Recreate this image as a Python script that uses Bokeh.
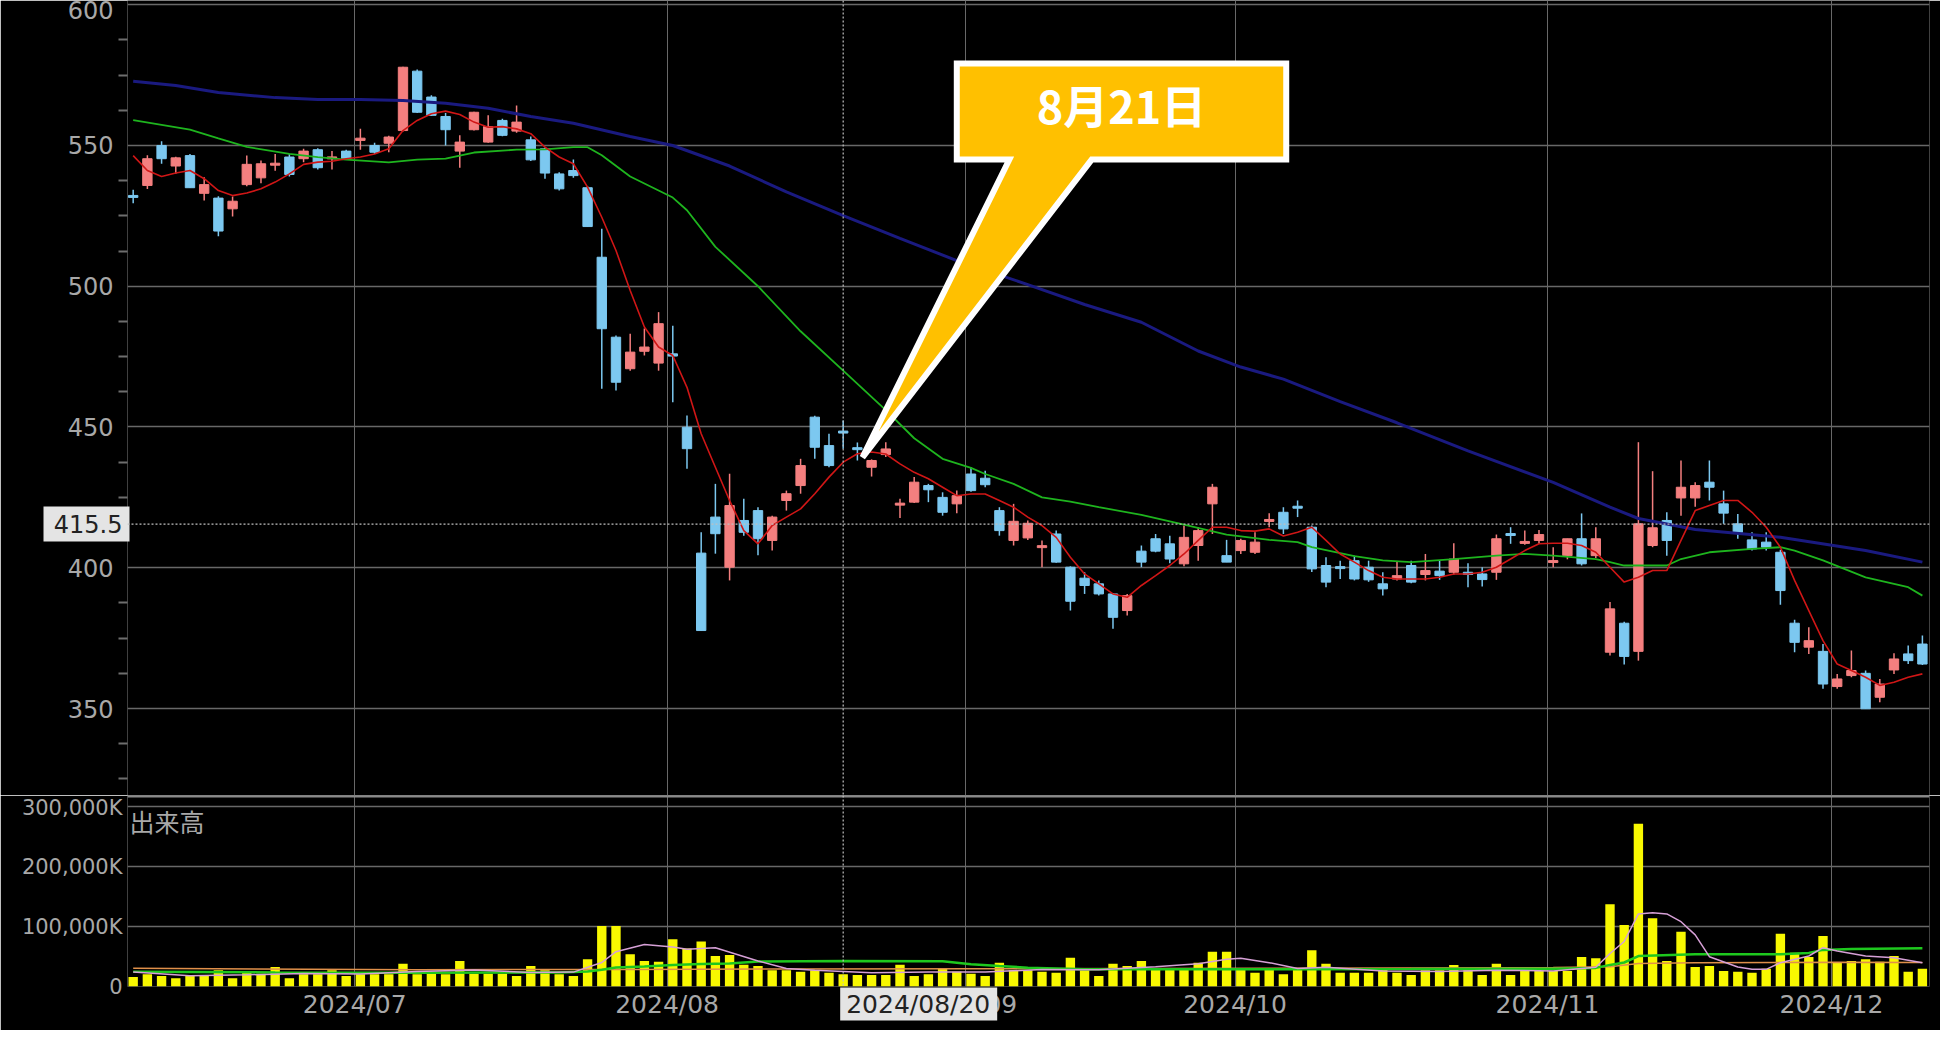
from bokeh.plotting import figure
from bokeh.layouts import column
from bokeh.models import FixedTicker, Span, Label, ColumnDataSource, Range1d
from bokeh.core.properties import value
from bokeh.embed import file_html
from bokeh.resources import INLINE

# ---------------- data ----------------
# trading-day index 0 = 2024/06/07 ... 126 = 2024/12/10
opens = [
    532, 535.8, 550, 542.7, 546.4, 533, 531.3, 527.5, 536.1, 538.5,
    543.3, 545.9, 545.3, 548.5, 545.5, 548, 551.8, 550, 550.8, 555.3,
    576.4, 567.2, 560.3, 548, 555.6, 551.2, 558.9, 555.1, 552, 548.8,
    539.9, 541.1, 535, 510.3, 481.9, 470.7, 476.9, 472.7, 476, 449.9,
    405.2, 418, 400.2, 416.8, 420.3, 409.7, 423.9, 429.2, 453.5, 443.4,
    448.3, 442.4, 435.7, 440.2, 422.5, 423.3, 429.2, 425, 422.7, 433.3,
    431.8, 420.3, 409.7, 410.6, 407.4, 412, 400.2, 396.3, 394.3, 390.7,
    384.8, 405.9, 410.3, 408.5, 401.4, 407.9, 422.7, 404.3, 406.1, 405.5,
    416.7, 419.7, 421.6, 414.4, 400.8, 400.1, 402.5, 400.2, 394.3, 396,
    400.8, 397.6, 398.8, 398.4, 398.4, 397.8, 398.4, 411.9, 408.9, 409.7,
    402.1, 404.3, 410.3, 404.3, 370, 380.3, 370.3, 407.9, 416.8, 424.8,
    424.8, 430.4, 422.7, 415.6, 409.9, 409.1, 405.5, 380.3, 371.8, 370.3,
    357.8, 361.7, 362.5, 354, 363.7, 369.4, 372.9]
highs = [
    534.3, 546.5, 551.5, 546, 547, 538.7, 532, 531.9, 546.4, 544.7,
    547, 547, 548.8, 549, 548, 548.5, 555.9, 551, 553.5, 578,
    577, 567.8, 561.5, 553.6, 562, 560.7, 559.5, 564.2, 553.2, 549.3,
    540.5, 545, 535.5, 520.4, 482.5, 483.1, 485, 490.8, 486, 454.1,
    412.6, 429.8, 433.4, 424.5, 421.5, 418.5, 427.4, 438.7, 454, 447.6,
    452.3, 444.5, 438.5, 444.6, 424.5, 432.2, 429.8, 426.8, 427.4, 435.7,
    434.5, 421.5, 422.7, 416.8, 409.7, 413.2, 400.5, 398.4, 395.5, 391,
    390.7, 407.9, 412, 411.4, 415, 414.4, 429.8, 409.9, 410.3, 412.6,
    419.4, 421.5, 423.9, 415, 403.7, 402.5, 404.3, 402.5, 398.4, 402,
    402.5, 404.9, 402.5, 408.7, 401.6, 400.2, 411.8, 414.4, 413.2, 413.4,
    407.3, 410.3, 419.3, 414.4, 387.8, 380.8, 444.6, 434.3, 419.7, 438.1,
    430.4, 438.1, 427.4, 419.1, 412.6, 412.6, 406.4, 381.5, 378.9, 372.9,
    362.3, 370.6, 363.5, 360.5, 369.6, 372.4, 375.9]
lows = [
    529.5, 534.5, 543.5, 540, 535, 530.5, 517.8, 524.8, 535.5, 536.6,
    541, 539, 544, 541.5, 541.5, 545, 548.5, 547, 547.6, 555,
    561.5, 560.5, 550, 542.1, 555.3, 551, 553.3, 554.5, 544.5, 538.2,
    534, 538.5, 521, 463.6, 463, 470, 475.4, 470, 458.8, 435.2,
    377.5, 405, 395.5, 411.4, 404.4, 406.1, 420.3, 426.3, 438.7, 435.7,
    442.3, 438.1, 432.4, 439.3, 417.7, 423, 423.3, 418.5, 419.4, 427,
    428.6, 411.4, 407.9, 409.9, 400.2, 401.8, 384.8, 390.7, 390.1, 378.3,
    383, 400.2, 405.5, 401.6, 400.5, 402.5, 412, 402, 404.9, 404.9,
    414.4, 412, 418, 398.5, 393.1, 396, 395.5, 395, 390.1, 395.5,
    394.5, 395.5, 395.7, 397.5, 393.1, 393.3, 395.7, 408.5, 408.2, 408.5,
    400.2, 403, 400.8, 403.5, 368.8, 365.6, 367, 407.3, 404.3, 418.5,
    421.7, 423.9, 415.6, 410.3, 406.1, 406.1, 386.9, 370, 369.4, 357,
    357, 361.1, 349.9, 352.2, 362.3, 365.8, 365.5]
closes = [
    531.8, 545.3, 545.3, 545.6, 535, 536.1, 519.6, 530.2, 543.3, 543.5,
    543.4, 539.7, 548, 542.1, 545.7, 545.3, 552.6, 547.6, 553, 577.8,
    561.8, 560.7, 555.6, 551.2, 561.8, 556.7, 553.6, 558.3, 544.9, 540.2,
    534.6, 539.3, 521.2, 484.9, 465.9, 476.6, 478.4, 486.7, 475.2, 442.3,
    377.7, 412.1, 422.1, 412.6, 410.3, 418, 426.3, 436.3, 442.8, 436.3,
    448.1, 442.2, 438.1, 442.2, 422.7, 430.4, 427.7, 419.7, 425.6, 427.4,
    429.5, 413.2, 416.5, 415.8, 407.6, 402, 388.1, 393.7, 390.7, 382.4,
    390.1, 402, 405.9, 403.1, 410.8, 413.2, 428.6, 402, 409.7, 409.1,
    416.9, 413.8, 421.4, 399.6, 394.9, 400, 396, 395.7, 392.5, 397.2,
    394.9, 399, 397.2, 403.1, 397.6, 395.8, 410.3, 411.7, 409.1, 411.8,
    402.3, 410.3, 401.4, 410.3, 385.4, 368.5, 415.6, 414.2, 409.7, 428.6,
    429.2, 428.6, 419.4, 412.6, 406.7, 407.3, 391.9, 373.5, 374.1, 358.7,
    360.5, 363.5, 349.9, 358.7, 367.6, 367, 365.8]
volumes_k = [
    15800, 20300, 17500, 13600, 17500, 17500, 26900, 13600, 24700, 21400,
    32500, 13600, 20300, 20300, 26900, 17500, 20300, 20300, 20300, 38100,
    20300, 21400, 20300, 42500, 21400, 21400, 21400, 17500, 34200, 26900,
    20300, 17500, 45300, 100800, 100800, 53600, 42500, 41400, 78600, 63300,
    74800, 50800, 52500, 36400, 34200, 26900, 26900, 24700, 26900, 23000,
    20300, 19200, 19200, 19200, 36400, 17500, 20300, 29700, 24700, 21400,
    17500, 39700, 26900, 26900, 24700, 23000, 48100, 26900, 17500, 38100,
    34200, 42500, 30800, 30800, 30800, 39700, 58100, 58100, 30800, 23000,
    27500, 20300, 28000, 60300, 38100, 23000, 23000, 23000, 28600, 23000,
    19200, 26900, 26900, 35800, 26900, 19200, 38100, 19200, 25800, 25800,
    25800, 25800, 49200, 47000, 136900, 102500, 271400, 113600, 42500, 91400,
    32500, 34200, 25800, 24700, 23000, 29700, 88100, 56400, 49200, 84200,
    39700, 42500, 45300, 41400, 50800, 24700, 29700]

# short moving average of price (one value per day)
ma_short = [
    546.4, 541.1, 539, 540.2, 541.1, 538.2, 534, 532.2, 533.1, 534.6,
    537, 539.9, 543.3, 544.1, 544.4, 545.3, 545.9, 547, 548.8, 555.3,
    558.9, 561.3, 562.2, 561, 558.3, 556.5, 556.7, 555.9, 554.2, 549.4,
    545.9, 543.5, 535.2, 524.5, 512.7, 498.5, 485.5, 478.4, 475.4, 464.1,
    447.6, 435.7, 423.9, 413.2, 408.5, 415, 418, 420.9, 426.3, 432.2,
    437.5, 440.5, 441.1, 440.4, 436.9, 433.9, 431.6, 428.6, 425.6, 426.2,
    426.2, 423.9, 421.5, 418, 415, 410.8, 403.7, 397.8, 394.3, 390.7,
    389.5, 393.7, 397.2, 400.8, 404.9, 409.7, 414.4, 414.4, 413.2, 413,
    413.8, 411.3, 412.6, 414.4, 409.7, 404.9, 402, 399, 396.6, 396,
    396, 396, 396.6, 397.8, 397.8, 398.4, 400.2, 403.1, 406.1, 408.5,
    408.7, 408.7, 407.9, 405.5, 400.2, 394.9, 396.6, 399, 399, 409.7,
    420.3, 422.1, 423.9, 423.9, 419.7, 414.4, 407.3, 395.5, 384.8, 374.1,
    365.8, 363.5, 361.1, 358.2, 359.3, 361.1, 362.3]
# medium moving average (read at selected days)
ma_mid_x = [0, 4, 6, 8, 11, 13, 15, 18, 20, 22, 24, 27, 29, 31, 32, 33, 35, 37, 38, 39,
            41, 44, 47, 50, 53, 55, 57, 59, 60, 62, 64, 66, 68, 71, 74, 77, 80, 82, 83,
            86, 88, 90, 93, 96, 98, 100, 103, 104, 105, 108, 109, 111, 114, 116, 117,
            119, 122, 125, 126]
ma_mid_y = [559, 555.6, 552.5, 549.5, 547, 545.9, 545, 544, 545, 545.3, 547.5, 548.5, 548.6,
            549.4, 549.4, 546.5, 539, 534, 531.5, 527, 514, 500, 484, 470, 456, 446,
            438.7, 435.5, 433.3, 429.8, 425, 423.5, 421.5, 418.8, 415.3, 411.8, 409.9,
            409.1, 407.3, 404.1, 402.6, 402, 403.1, 404.3, 404.9, 404.3, 403.1, 402,
            400.8, 400.8, 403.1, 405.5, 406.7, 407.3, 406.1, 402.6, 396.6, 393.1, 390.1]
# long moving average (read at selected days)
ma_long_x = [0, 3, 6, 10, 13, 16, 19, 22, 25, 28, 31, 35, 38, 42, 46, 50, 54, 58, 63,
             67, 71, 75, 78, 81, 85, 89, 94, 100, 104, 106, 110, 116, 122, 126]
ma_long_y = [572.8, 571.3, 568.8, 567, 566.3, 566.3, 566, 565, 563.2, 560.3, 557.9, 553.2,
             550, 542.7, 533.5, 525.1, 517, 509.1, 500.6, 493.5, 487.2, 477, 471.3, 467,
             459, 451.5, 441.5, 430.3, 421.5, 417.5, 413.6, 410.8, 406.1, 402]
# volume moving averages (thousands, read at selected days)
vma_short_x = [0, 4, 8, 12, 16, 20, 24, 28, 31, 33, 34, 36, 38, 39, 41, 44, 46, 48, 52,
               56, 60, 64, 68, 72, 75, 77, 78, 80, 82, 84, 88, 92, 96, 100, 103, 104,
               105, 106, 107, 108, 109, 110, 111, 113, 114, 115, 116, 118, 119, 120,
               122, 124, 126]
vma_short_y = [24000, 18000, 19500, 21500, 21000, 25000, 27500, 23500, 24000, 40000,
               58000, 70000, 66000, 62000, 64700, 42500, 30000, 26900, 23000, 24000,
               24000, 28500, 28000, 33000, 38000, 45300, 47000, 39700, 30000, 32000,
               26000, 25000, 27000, 26000, 32000, 55000, 75000, 121000, 123000, 121000,
               108000, 86000, 49700, 32500, 28600, 28600, 39700, 50800, 64700, 59000,
               50800, 47800, 39700]
vma_mid_x = [0, 10, 20, 30, 32, 33, 34, 36, 38, 40, 42, 44, 50, 57, 59, 61, 63, 67, 75,
             82, 90, 100, 103, 104, 105, 106, 110, 116, 118, 119, 121, 126]
vma_mid_y = [24700, 23500, 23000, 23500, 25000, 28000, 31500, 33500, 36000, 37500, 38500,
             41500, 42500, 42000, 37000, 34000, 31400, 28600, 28600, 28600, 29000,
             29700, 31000, 36000, 40000, 50800, 53600, 53600, 56000, 61000, 62500, 63600]
vma_long_x = [0, 20, 35, 45, 60, 80, 100, 104, 106, 110, 120, 126]
vma_long_y = [30300, 28000, 28500, 29000, 29500, 30500, 31500, 33000, 38500, 39500, 40500,
              40000]

month_start_idx = [16, 38, 59, 78, 100, 120]
month_labels = ["2024/07", "2024/08", "2024/09", "2024/10", "2024/11", "2024/12"]
price_ticks = [350, 400, 450, 500, 550, 600]
vol_ticks = [0, 100000, 200000, 300000]
vol_tick_labels = ["0", "100,000K", "200,000K", "300,000K"]
cursor_idx = 50
cursor_date = "2024/08/20"
cursor_price = 415.5
callout_idx = 51
callout_text = "8月21日"
volume_title = "出来高"

# ---------------- styling constants ----------------
BG = "#000000"
UP = "#f47f7f"
DOWN = "#7cc8f0"
GRID = "#686868"
LABEL = "#a8a8a8"
FONT = "DejaVu Sans"
X_START, X_END = -0.4, 126.5
GRID_SHIFT = -0.4
PX_PER_DAY = 14.2          # screen px per trading day
PX_PER_PRICE = 2.815       # screen px per price unit
PX_PER_VOL = 60 / 100000   # screen px per thousand shares

n = len(closes)
xs = list(range(n))
colors = [UP if c >= o else DOWN for o, c in zip(opens, closes)]
tops, bots = [], []
for o, c in zip(opens, closes):
    t, b = max(o, c), min(o, c)
    if t - b < 0.7:
        m = (t + b) / 2
        t, b = m + 0.35, m - 0.35
    tops.append(t)
    bots.append(b)

src = ColumnDataSource(dict(x=xs, high=highs, low=lows, top=tops, bottom=bots,
                            color=colors, vol=volumes_k))
month_ticks = [m + GRID_SHIFT for m in month_start_idx]

W = 1940
H1 = 795
H2 = 235
LEFT = 127
RIGHT = W - 1929

# ---------------- price panel ----------------
p1 = figure(width=W, height=H1, x_range=Range1d(X_START, X_END),
            y_range=Range1d(319.1, 601.5), x_axis_location=None,
            output_backend="svg", toolbar_location=None,
            min_border_left=LEFT, min_border_right=RIGHT, min_border_top=0, min_border_bottom=0,
            background_fill_color=BG, border_fill_color=BG, outline_line_color=None)
p1.xgrid.ticker = FixedTicker(ticks=month_ticks)
p1.xgrid.grid_line_color = GRID
p1.xgrid.grid_line_width = 1
minor = [v for v in [325 + 12.5 * k for k in range(23)] if v not in price_ticks]
p1.yaxis.ticker = FixedTicker(ticks=price_ticks, minor_ticks=minor)
p1.ygrid.grid_line_color = GRID
p1.ygrid.grid_line_width = 1.5
ax = p1.yaxis[0]
ax.axis_line_color = None
ax.major_tick_line_color = None
ax.major_tick_out = 0
ax.minor_tick_in = 0
ax.minor_tick_out = 9
ax.minor_tick_line_color = "#6e6e6e"
ax.minor_tick_line_width = 2
ax.major_label_standoff = 5
ax.major_label_text_font = FONT
ax.major_label_text_font_size = "24px"
ax.major_label_text_color = LABEL

p1.segment(x0="x", y0="low", x1="x", y1="high", line_color="color", line_width=1.5, source=src)
p1.vbar(x="x", width=0.66, top="top", bottom="bottom", fill_color="color",
        line_color="color", line_width=1, source=src)
p1.line(ma_long_x, ma_long_y, line_color="#1a1a80", line_width=3)
p1.line(ma_mid_x, ma_mid_y, line_color="#1eb41e", line_width=1.8)
p1.line(xs, ma_short, line_color="#d01616", line_width=1.6)

p1.add_layout(Span(location=cursor_idx, dimension="height", line_color="#c0c0c0",
                   line_dash="2 2", line_width=1.2))
p1.add_layout(Span(location=cursor_price, dimension="width", line_color="#c0c0c0",
                   line_dash="2 2", line_width=1.2))

# price read-out box on the axis (drawn unclipped at annotation level)
box_l = X_START - 84 / PX_PER_DAY
box_r = X_START + 2 / PX_PER_DAY
box_h = 17.5 / PX_PER_PRICE
p1.quad(left=[box_l], right=[box_r], bottom=[cursor_price - box_h], top=[cursor_price + box_h],
        fill_color="#e4e4e4", line_color=None, level="annotation")
p1.text(x=[X_START], y=[cursor_price], text=["%.1f" % cursor_price], x_offset=-5,
        text_align="right", text_baseline="middle", text_font=value(FONT),
        text_font_size=value("24px"), text_color="#222222", level="annotation")

# callout (wedge rectangle) anchored at the 8/21 candle
tip_x, tip_y = callout_idx + 0.36, 439.2
bx0, bx1, by0, by1 = tip_x + 6.64, tip_x + 29.84, tip_y + 105.8, tip_y + 139.9
wx0, wx1 = tip_x + 10.34, tip_x + 16.14
p1.patch([bx0, bx1, bx1, wx1, tip_x, wx0, bx0], [by1, by1, by0, by0, tip_y, by0, by0],
         fill_color="#ffc000", line_color="#ffffff", line_width=6, line_join="miter")
p1.add_layout(Label(x=(bx0 + bx1) / 2, y=(by0 + by1) / 2 + 2.6, text=callout_text,
                    text_align="center", text_baseline="middle",
                    text_font="Noto Sans CJK JP", text_font_style="bold",
                    text_font_size="45px", text_color="#ffffff"))

# ---------------- volume panel ----------------
frame2 = 986 - H1
p2 = figure(width=W, height=H2, x_range=p1.x_range,
            y_range=Range1d(0, frame2 / PX_PER_VOL),
            output_backend="svg", toolbar_location=None,
            min_border_left=LEFT, min_border_right=RIGHT, min_border_top=0,
            min_border_bottom=H2 - frame2,
            background_fill_color=BG, border_fill_color=BG, outline_line_color=None)
p2.xaxis.ticker = FixedTicker(ticks=month_ticks)
p2.xaxis.major_label_overrides = {t: l for t, l in zip(month_ticks, month_labels)}
xa = p2.xaxis[0]
xa.axis_line_color = None
xa.major_tick_line_color = None
xa.minor_tick_line_color = None
xa.major_tick_out = 0
xa.major_label_standoff = 3
xa.major_label_text_font = FONT
xa.major_label_text_font_size = "25px"
xa.major_label_text_color = LABEL
p2.xgrid.ticker = FixedTicker(ticks=month_ticks)
p2.xgrid.grid_line_color = GRID
p2.xgrid.grid_line_width = 1

p2.yaxis.ticker = FixedTicker(ticks=vol_ticks, minor_ticks=[])
p2.yaxis.major_label_overrides = {t: l for t, l in zip(vol_ticks, vol_tick_labels)}
ya = p2.yaxis[0]
ya.axis_line_color = None
ya.major_tick_line_color = None
ya.minor_tick_line_color = None
ya.major_tick_out = 0
ya.major_label_standoff = 5
ya.major_label_text_font = FONT
ya.major_label_text_font_size = "21px"
ya.major_label_text_color = LABEL
p2.ygrid.grid_line_color = GRID
p2.ygrid.grid_line_width = 1.5

p2.vbar(x="x", width=0.66, top="vol", bottom=0, fill_color="#f8f800",
        line_color=None, source=src)
p2.line(vma_long_x, vma_long_y, line_color="#e0904a", line_width=1.5)
p2.line(vma_mid_x, vma_mid_y, line_color="#1ec81e", line_width=2.5)
p2.line(vma_short_x, vma_short_y, line_color="#d6a0d6", line_width=1.5)

p2.add_layout(Span(location=(frame2 - 1) / PX_PER_VOL, dimension="width",
                   line_color="#8a8a8a", line_width=2))
p2.add_layout(Span(location=cursor_idx, dimension="height", line_color="#c0c0c0",
                   line_dash="2 2", line_width=1.2))
p2.add_layout(Label(x=X_START, y=(frame2 - 7) / PX_PER_VOL, text=volume_title, x_offset=2,
                    text_align="left", text_baseline="top",
                    text_font="Noto Sans CJK JP", text_font_size="25px",
                    text_color="#a8a8a8"))
# date read-out box under the cursor (drawn unclipped at annotation level)
d_l = cursor_idx - 3 / PX_PER_DAY
d_r = cursor_idx + 154 / PX_PER_DAY
p2.quad(left=[d_l], right=[d_r], bottom=[-34 / PX_PER_VOL], top=[-1 / PX_PER_VOL],
        fill_color="#e4e4e4", line_color=None, level="annotation")
p2.text(x=[cursor_idx], y=[-17.5 / PX_PER_VOL], text=[cursor_date], x_offset=3,
        text_align="left", text_baseline="middle", text_font=value(FONT),
        text_font_size=value("25px"), text_color="#222222", level="annotation")

layout = column(p1, p2, spacing=0)
html = file_html(layout, INLINE)
html = html.replace("<body>", '<body style="background-color:#000000;">', 1)
open("out.html", "w").write(html)
